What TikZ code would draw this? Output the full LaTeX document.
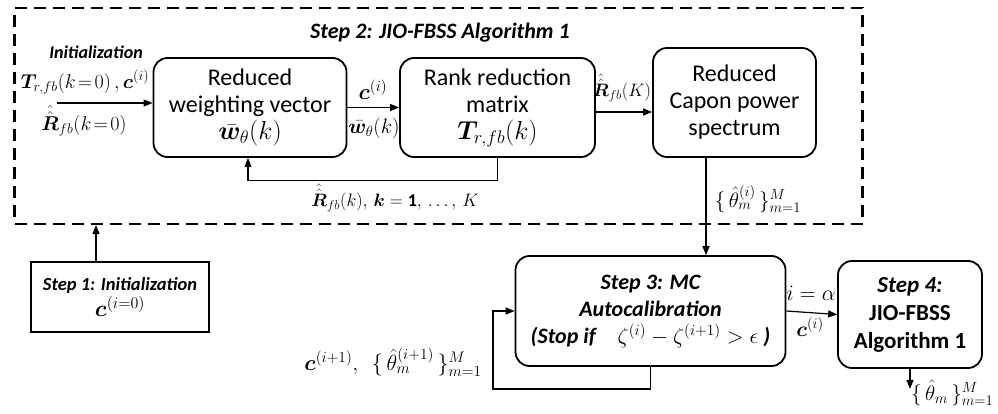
\RequirePackage{fix-cm}
\documentclass[tikz,border=0pt]{standalone}
\usepackage{amsmath}
\usepackage{bm}
\usepackage{fontspec}
\setmainfont{Carlito}
\usetikzlibrary{arrows.meta,calc}
\begin{document}
\begin{tikzpicture}[x=1pt,y=-1pt,
  box/.style={draw, line width=1.8pt, rounded corners=14pt, align=center,
    font=\fontsize{24}{27}\selectfont, inner sep=0pt},
  sqbox/.style={draw, line width=1.8pt, align=center, inner sep=0pt},
  arr/.style={line width=1.2pt, -{Triangle[length=9pt,width=7pt]}},
  lbl/.style={font=\fontsize{20}{22}\selectfont, inner sep=0pt}]
\useasboundingbox (0,0) rectangle (998,414);

% dashed frame
\node (frame) [draw, dashed, line width=2.2pt, dash pattern=on 12pt off 7pt,
  minimum width=848pt, minimum height=216pt, inner sep=0pt] at (438.5,116) {};
\node (title) [font=\fontsize{22}{24}\selectfont\bfseries\itshape] at (440,33)
  {Step 2: JIO-FBSS Algorithm 1};

% step 2 boxes
\node (b1) [box, minimum width=193pt, minimum height=99pt] at (250,107.5)
  {Reduced\\weighting vector\\ {\fontsize{26}{27}\selectfont$\bar{\bm{w}}_{\theta}(k)$}};
\node (b2) [box, minimum width=195pt, minimum height=99pt] at (497.5,107.5)
  {Rank reduction\\matrix\\ {\fontsize{26}{27}\selectfont$\bm{T}_{r,fb}(k)$}};
\node (b3) [box, minimum width=163pt, minimum height=109pt] at (734.5,102.5)
  {Reduced\\Capon power\\spectrum};

% step 1
\node (s1) [sqbox, minimum width=178pt, minimum height=70pt] at (120,297)
  {{\fontsize{18.5}{22}\selectfont\bfseries\itshape Step 1: Initialization}\\[2pt]
   {\fontsize{23}{24}\selectfont $\bm{c}^{(i=0)}$}};

% step 3 and 4
\node (s3) [box, font=\fontsize{22}{27}\selectfont, minimum width=270pt, minimum height=110pt] at (650.5,311)
  {{\bfseries\itshape Step 3: MC}\\
   {\bfseries\itshape Autocalibration}\\
   {\bfseries\itshape (Stop if}\quad {\fontsize{22}{27}\selectfont$\zeta^{(i)}-\zeta^{(i+1)}>\epsilon$} {\bfseries\itshape)}};
\node (s4) [box, font=\fontsize{23}{28}\selectfont, minimum width=144pt, minimum height=107pt] at (910,314.5)
  {{\bfseries\itshape Step 4:}\\ {\bfseries JIO-FBSS}\\ {\bfseries Algorithm 1}};

% input labels
\node (initl) [font=\fontsize{18}{20}\selectfont\bfseries\itshape] at (96,52) {Initialization};
\node (tl) [lbl] at (85,82) {$\bm{T}_{r,fb}(k\!=\!0)\,,\bm{c}^{(i)}$};
\node (rl) [lbl] at (84,121) {$\hat{\hat{\bm{R}}}_{fb}(k\!=\!0)$};
\coordinate (in1) at (57,103);
\draw[arr] (in1) -- (in1 -| b1.west);

% b1 -> b2
\draw[arr] (b1.east) -- (b2.west);
\node (cl1) [lbl, font=\fontsize{22}{22}\selectfont] at (373,90) {$\bm{c}^{(i)}$};
\node (wl1) [lbl, font=\fontsize{21}{22}\selectfont] at (374,128) {$\bar{\bm{w}}_{\theta}(k)$};

% b2 -> b3
\draw[arr] (b2.east |- 0,112) -- (b3.west |- 0,112);
\node (rk) [lbl, font=\fontsize{18}{22}\selectfont] at (622,88) {$\hat{\hat{\bm{R}}}_{fb}(K)$};

% feedback b2 -> b1
\draw[arr] (b2.south) -- ++(0,23) -| ([xshift=-2pt]b1.south);
\node (fbl) [lbl, font=\fontsize{18}{20}\selectfont] at (395,198) {$\hat{\hat{\bm{R}}}_{fb}(k),\,\bm{k}=\mathbf{1},\,\ldots,\,K$};

% b3 -> s3
\draw[arr] ([xshift=-28.5pt]b3.south) -- ([xshift=-28.5pt]b3.south |- s3.north);
\node (thl) [lbl, font=\fontsize{21}{22}\selectfont] at (758,199) {$\{\,\hat{\theta}_m^{(i)}\,\}_{m=1}^{M}$};

% s1 -> frame
\draw[arr] ([xshift=-24pt]s1.north) -- ([xshift=-24pt]s1.north |- frame.south);

% s3 -> s4
\draw[arr] (s3.east) -- (s4.west);
\node (al) [lbl, font=\fontsize{22}{22}\selectfont] at (811,293) {$i=\alpha$};
\node (cl2) [lbl, font=\fontsize{21}{22}\selectfont] at (810,327) {$\bm{c}^{(i)}$};

% loop on s3
\coordinate (lp) at (493,311);
\draw[arr] (s3.south) -- ++(0,22) -| (lp) -- (lp -| s3.west);
\node (ll) [lbl, font=\fontsize{22}{22}\selectfont] at (393,362) {$\bm{c}^{(i+1)},\ \ \{\,\hat{\theta}_m^{(i+1)}\,\}_{m=1}^{M}$};

% output
\draw[arr] (s4.south) -- ++(0,20);
\node (ol) [lbl, font=\fontsize{21}{22}\selectfont, anchor=west] at (911,393) {$\{\,\hat{\theta}_m\,\}_{m=1}^{M}$};
\end{tikzpicture}
\end{document}
